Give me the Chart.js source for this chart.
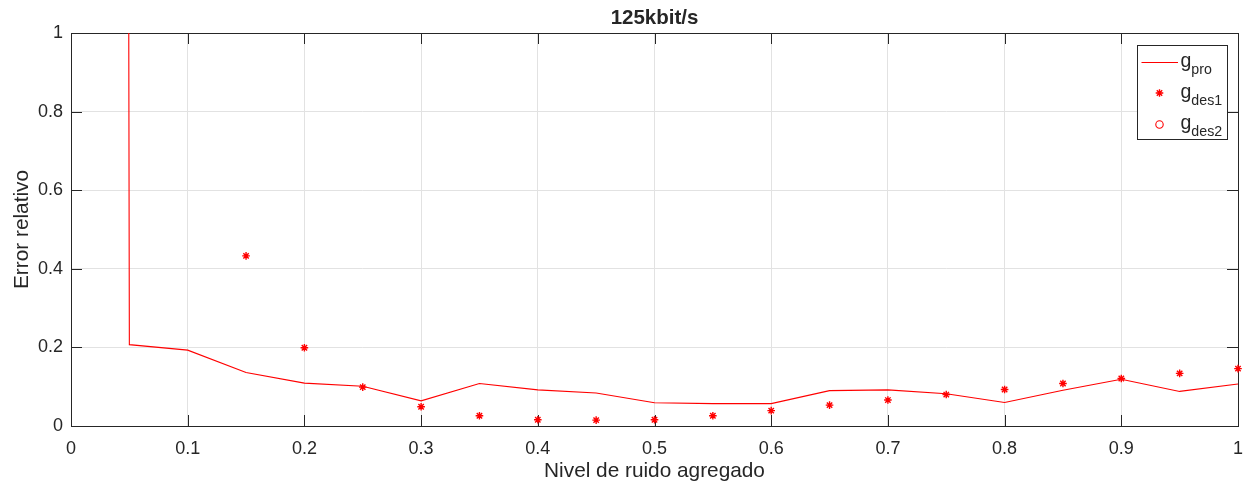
<!DOCTYPE html>
<html>
<head>
<meta charset="utf-8">
<script src="https://cdn.jsdelivr.net/npm/chart.js@4/dist/chart.umd.min.js"></script>
<style>
  html, body { margin: 0; padding: 0; background: #ffffff; }
  canvas { display: block; }
</style>
</head>
<body>
<canvas id="c" width="1247" height="488"></canvas>
<script>
// Noise level added to the signal
const noiseLevels = [0, 0.05, 0.1, 0.15, 0.2, 0.25, 0.3, 0.35, 0.4, 0.45, 0.5,
                     0.55, 0.6, 0.65, 0.7, 0.75, 0.8, 0.85, 0.9, 0.95, 1];
// Relative error of each estimator (null = not available / off scale)
const gPro  = [80, 0.207, 0.193, 0.136, 0.109, 0.101, 0.064, 0.108, 0.092, 0.084, 0.059,
               0.057, 0.057, 0.090, 0.092, 0.082, 0.060, 0.091, 0.119, 0.088, 0.107];
const gDes1 = [null, null, null, 0.433, 0.199, 0.099, 0.049, 0.026, 0.016, 0.015, 0.016,
               0.026, 0.039, 0.053, 0.066, 0.080, 0.093, 0.108, 0.121, 0.134, 0.146];
const gDes2 = [null, null, null, null, null, null, null, null, null, null, null,
               null, null, null, null, null, null, null, null, null, null];

const xTickValues = [0, 0.1, 0.2, 0.3, 0.4, 0.5, 0.6, 0.7, 0.8, 0.9, 1];
const xTickLabels = ['0', '0.1', '0.2', '0.3', '0.4', '0.5', '0.6', '0.7', '0.8', '0.9', '1'];
const yTickValues = [0, 0.2, 0.4, 0.6, 0.8, 1];
const yTickLabels = ['0', '0.2', '0.4', '0.6', '0.8', '1'];

const titleText = '125kbit/s';
const xTitle = 'Nivel de ruido agregado';
const yTitle = 'Error relativo';
const legendNames = [['g', 'pro'], ['g', 'des1'], ['g', 'des2']];

const FONT = '"Liberation Sans", Arial, Helvetica, sans-serif';
const INK = '#262626';
const RED = '#ff0000';

const toPoints = arr => noiseLevels.map((x, i) => ({ x: x, y: arr[i] }));

// Axes box and inward ticks (under the markers), then title and legend on top
const axesDecor = {
  id: 'axesDecor',
  beforeDatasetsDraw(chart) {
    const ctx = chart.ctx;
    const { left, right, top, bottom } = chart.chartArea;
    const xs = chart.scales.x, ys = chart.scales.y;
    const tl = 11;
    ctx.save();
    ctx.strokeStyle = INK;
    ctx.lineWidth = 1;
    ctx.beginPath();
    xTickValues.forEach(v => {
      const px = Math.round(xs.getPixelForValue(v)) + 0.5;
      ctx.moveTo(px, bottom); ctx.lineTo(px, bottom - tl);
      ctx.moveTo(px, top); ctx.lineTo(px, top + tl);
    });
    yTickValues.forEach(v => {
      const py = Math.round(ys.getPixelForValue(v)) + 0.5;
      ctx.moveTo(left, py); ctx.lineTo(left + tl, py);
      ctx.moveTo(right, py); ctx.lineTo(right - tl, py);
    });
    ctx.stroke();
    ctx.strokeRect(Math.round(left) + 0.5, Math.round(top) + 0.5,
                   Math.round(right - left), Math.round(bottom - top));
    ctx.restore();
  },
  afterDraw(chart) {
    const ctx = chart.ctx;
    const { left, right, top } = chart.chartArea;
    ctx.save();

    // title
    ctx.fillStyle = INK;
    ctx.font = 'bold 20.5px ' + FONT;
    ctx.textAlign = 'center';
    ctx.textBaseline = 'alphabetic';
    ctx.fillText(titleText, (left + right) / 2, 24);

    // legend
    const bw = 90, bh = 94;
    const bx = Math.round(right) - 11 - bw + 0.5;
    const by = Math.round(top) + 12 + 0.5;
    ctx.fillStyle = '#ffffff';
    ctx.fillRect(bx, by, bw, bh);
    ctx.strokeStyle = INK;
    ctx.lineWidth = 1;
    ctx.strokeRect(bx, by, bw, bh);
    const rowY = [by + 17, by + 47.5, by + 79];
    const sampleL = bx + 4, sampleR = bx + 40.5, sampleC = bx + 22;
    const ds = chart.data.datasets;
    legendNames.forEach((nm, i) => {
      const y = rowY[i];
      const d = ds[i];
      ctx.strokeStyle = d.borderColor;
      ctx.lineWidth = d.borderWidth;
      ctx.beginPath();
      if (i === 0) {
        ctx.moveTo(sampleL, y); ctx.lineTo(sampleR, y);
      } else if (d.pointStyle === 'circle') {
        ctx.arc(sampleC, y, d.pointRadius, 0, Math.PI * 2);
      } else {
        const r = d.pointRadius;
        for (let k = 0; k < 4; k++) {
          const a = k * Math.PI / 4;
          ctx.moveTo(sampleC - r * Math.cos(a), y - r * Math.sin(a));
          ctx.lineTo(sampleC + r * Math.cos(a), y + r * Math.sin(a));
        }
      }
      ctx.stroke();
      ctx.fillStyle = INK;
      ctx.textAlign = 'left';
      ctx.textBaseline = 'alphabetic';
      ctx.font = '19.5px ' + FONT;
      const gx = bx + 43;
      ctx.fillText(nm[0], gx, y + 4.5);
      const gw = ctx.measureText(nm[0]).width;
      ctx.font = '14.2px ' + FONT;
      ctx.fillText(nm[1], gx + gw, y + 11.5);
    });
    ctx.restore();
  }
};

new Chart(document.getElementById('c'), {
  type: 'scatter',
  data: {
    datasets: [
      {
        label: 'gpro', data: toPoints(gPro), showLine: true,
        borderColor: RED, backgroundColor: RED, borderWidth: 1.1,
        pointRadius: 0, pointHoverRadius: 0, tension: 0
      },
      {
        label: 'gdes1', data: toPoints(gDes1), showLine: false, clip: false,
        pointStyle: 'star', pointRadius: 3.8, borderColor: RED,
        backgroundColor: RED, borderWidth: 1.4
      },
      {
        label: 'gdes2', data: toPoints(gDes2), showLine: false, clip: false,
        pointStyle: 'circle', pointRadius: 3.7, borderColor: RED,
        backgroundColor: 'rgba(0,0,0,0)', borderWidth: 1.1
      }
    ]
  },
  options: {
    responsive: false,
    animation: false,
    devicePixelRatio: 1,
    layout: { padding: { top: 33, right: 9, left: 0, bottom: 0 } },
    plugins: {
      legend: { display: false },
      title: { display: false },
      tooltip: { enabled: false }
    },
    scales: {
      x: {
        type: 'linear', min: 0, max: 1,
        afterBuildTicks: s => { s.ticks = xTickValues.map(v => ({ value: v })); },
        afterFit: s => { s.height = 62; s.paddingLeft = 0; s.paddingRight = 0; },
        grid: { color: '#e2e2e2', lineWidth: 1, drawTicks: false },
        border: { display: false },
        ticks: {
          padding: 12, color: INK, maxRotation: 0, autoSkip: false,
          font: { family: FONT, size: 18 },
          callback: (v, i) => xTickLabels[i]
        },
        title: {
          display: true, text: xTitle, color: INK,
          font: { family: FONT, size: 20.8 }, padding: { top: 0, bottom: 4 }
        }
      },
      y: {
        type: 'linear', min: 0, max: 1,
        afterBuildTicks: s => { s.ticks = yTickValues.map(v => ({ value: v })); },
        afterFit: s => { s.width = 71; s.paddingTop = 0; s.paddingBottom = 0; },
        grid: { color: '#e2e2e2', lineWidth: 1, drawTicks: false },
        border: { display: false },
        ticks: {
          padding: 8, color: INK,
          font: { family: FONT, size: 18 },
          callback: (v, i) => yTickLabels[i]
        },
        title: {
          display: true, text: yTitle, color: INK,
          font: { family: FONT, size: 20.8 }, padding: { top: 10, bottom: 0 }
        }
      }
    }
  },
  plugins: [axesDecor]
});
</script>
</body>
</html>
